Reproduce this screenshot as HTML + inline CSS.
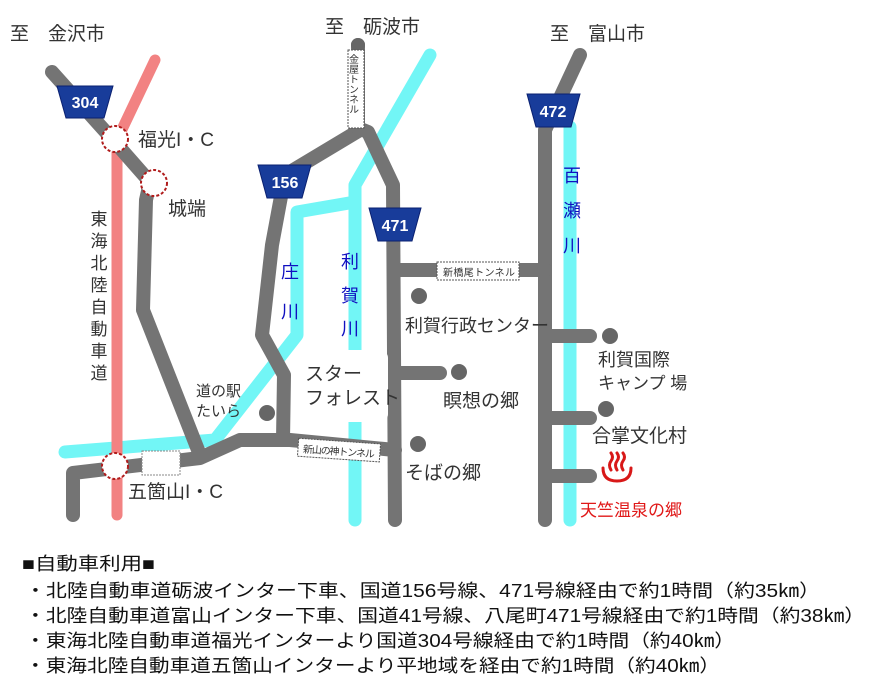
<!DOCTYPE html>
<html><head><meta charset="utf-8"><style>html,body{margin:0;padding:0;background:#fff}svg{display:block}text{font-family:"Liberation Sans","Noto Sans CJK JP",sans-serif}</style></head><body>
<svg width="880" height="690" viewBox="0 0 880 690" xmlns="http://www.w3.org/2000/svg">
<g fill="none" stroke-linecap="round" stroke-linejoin="round">
<!-- cyan rivers -->
<g stroke="#72f6f6" stroke-width="13">
<polyline points="430,55 355,185 355,520"/>
<polyline points="355,202 297,212 297,335 215,440 65,452"/>
<polyline points="570,127 570,520"/>
</g>
<!-- red expressway -->
<polyline stroke="#f28282" stroke-width="11" points="155,60 117,140 117,515"/>
<!-- gray roads -->
<g stroke="#747474" stroke-width="14">
<polyline points="52,72 113,140 150,182 146,200 143,310 200,455"/>
<polyline points="73,515 73,473 200,458 240,440 290,440 395,450"/>
<polyline points="360,130 285,175 272,245 262,335 284,375 283,440"/>
<polyline points="358,45 358,128 368,132 393,185 395,520"/>
<polyline points="580,55 545,130 545,520"/>
<polyline points="395,270 545,270"/>
<polyline points="395,373 440,373"/>
<polyline points="545,336 590,336"/>
<polyline points="545,418 590,418"/>
<polyline points="545,476 590,476"/>
</g>
</g>
<!-- dots -->
<g fill="#666">
<circle cx="358" cy="45" r="7"/>
<circle cx="419" cy="296" r="8"/><circle cx="459" cy="372" r="8"/><circle cx="418" cy="444" r="8"/>
<circle cx="610" cy="336" r="8"/><circle cx="606" cy="409" r="8"/><circle cx="267" cy="413" r="8"/>
</g>
<!-- interchanges -->
<g fill="#fff" stroke="#b01c1c" stroke-width="2" stroke-dasharray="3,2">
<circle cx="115" cy="139" r="13"/><circle cx="154" cy="183" r="13"/><circle cx="115" cy="466" r="13"/>
</g>
<rect x="142" y="451" width="38" height="24" fill="#fff" stroke="#888" stroke-dasharray="2,1"/>
<!-- tunnels -->
<rect x="348" y="50" width="16" height="78" fill="#fff" stroke="#555" stroke-dasharray="2,1"/>
<text x="0" y="0" font-size="10" fill="#333" transform="translate(352,54)" writing-mode="tb">金屋トンネル</text>
<rect x="437" y="262" width="82" height="18" fill="#fff" stroke="#555" stroke-dasharray="2,1"/>
<text x="443" y="276" font-size="10" fill="#333" textLength="72">新橋尾トンネル</text>
<g transform="rotate(4 338 450)"><rect x="298" y="441" width="82" height="18" fill="#fff" stroke="#555" stroke-dasharray="2,1"/>
<text x="303" y="455" font-size="10" fill="#333" textLength="72">新山の神トンネル</text></g>
<!-- star forest box -->
<rect x="293" y="350" width="95" height="72" rx="8" fill="#fff"/>
<!-- shields -->
<g fill="#183c9a" stroke="#0a2070">
<polygon points="57,86 113,86 104,118 66,118"/>
<polygon points="258,165 311,165 302,198 267,198"/>
<polygon points="369,208 421,208 412,241 378,241"/>
<polygon points="527,94 580,94 571,127 536,127"/>
</g>
<g fill="#fff" font-size="16" font-weight="bold" text-anchor="middle">
<text x="85" y="108">304</text><text x="285" y="188">156</text><text x="395" y="231">471</text><text x="553" y="117">472</text>
</g>
<!-- labels -->
<g fill="#333" font-size="19">
<text x="10" y="40">至　金沢市</text>
<text x="325" y="33">至　砺波市</text>
<text x="550" y="40">至　富山市</text>
<text x="138" y="146">福光I・C</text>
<text x="168" y="215">城端</text>
<text x="405" y="332" font-size="18">利賀行政センター</text>
<text x="443" y="407">瞑想の郷</text>
<text x="405" y="479">そばの郷</text>
<text x="598" y="366" font-size="18">利賀国際</text>
<text x="598" y="389" font-size="17">キャンプ 場</text>
<text x="592" y="442">合掌文化村</text>
<text x="128" y="498">五箇山I・C</text>
<text x="196" y="396" font-size="15">道の駅</text>
<text x="196" y="416" font-size="15">たいら</text>
<text x="305" y="380" font-size="19">スター</text>
<text x="305" y="404" font-size="19">フォレスト</text>
</g>
<g fill="#333" font-size="17" text-anchor="middle">
<text x="99" y="225">東</text><text x="99" y="247">海</text><text x="99" y="269">北</text><text x="99" y="291">陸</text><text x="99" y="313">自</text><text x="99" y="335">動</text><text x="99" y="357">車</text><text x="99" y="379">道</text>
</g>
<g fill="#1010c0" font-size="18" text-anchor="middle">
<text x="290" y="278">庄</text><text x="290" y="318">川</text>
<text x="350" y="268">利</text><text x="350" y="302">賀</text><text x="350" y="335">川</text>
<text x="572" y="182">百</text><text x="572" y="217">瀬</text><text x="572" y="252">川</text>
</g>
<!-- onsen -->
<g fill="none" stroke="#d81818" stroke-width="3" stroke-linecap="round">
<path d="M603,468 q0,13 14,13 q14,0 14,-13"/>
<path d="M611,470 q-3,-5 0,-9 q3,-4 0,-8"/><path d="M617,470 q-3,-5 0,-9 q3,-4 0,-8"/><path d="M623,470 q-3,-5 0,-9 q3,-4 0,-8"/>
</g>
<text x="580" y="516" font-size="17" fill="#e01818">天竺温泉の郷</text>
<!-- footer -->
<g fill="#111" font-size="18">
<text x="22" y="570" textLength="133" lengthAdjust="spacingAndGlyphs">■自動車利用■</text>
<text x="25" y="597" textLength="795" lengthAdjust="spacingAndGlyphs">・北陸自動車道砺波インター下車、国道156号線、471号線経由で約1時間（約35㎞）</text>
<text x="25" y="622" textLength="840" lengthAdjust="spacingAndGlyphs">・北陸自動車道富山インター下車、国道41号線、八尾町471号線経由で約1時間（約38㎞）</text>
<text x="25" y="647" textLength="710" lengthAdjust="spacingAndGlyphs">・東海北陸自動車道福光インターより国道304号線経由で約1時間（約40㎞）</text>
<text x="25" y="672" textLength="695" lengthAdjust="spacingAndGlyphs">・東海北陸自動車道五箇山インターより平地域を経由で約1時間（約40㎞）</text>
</g>
</svg>
</body></html>
